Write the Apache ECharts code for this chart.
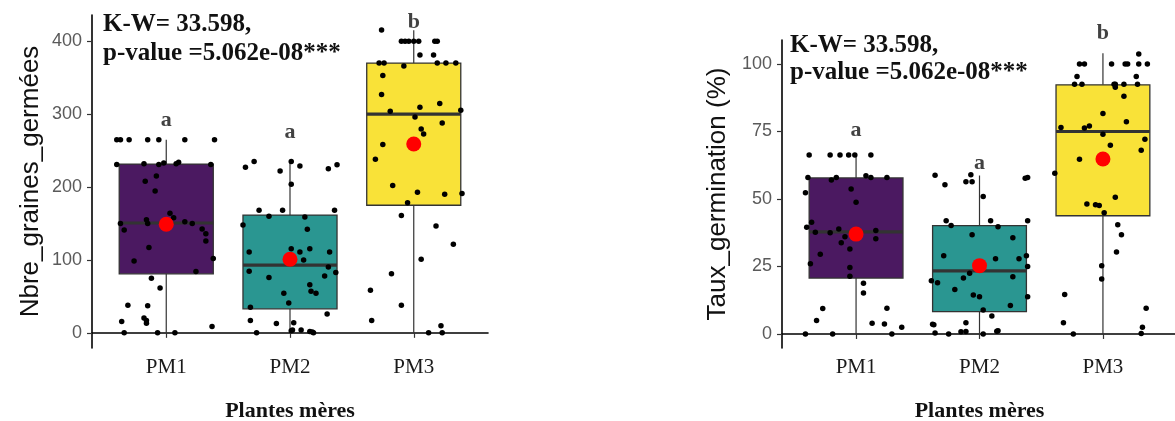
<!DOCTYPE html>
<html><head><meta charset="utf-8">
<script src="https://cdn.jsdelivr.net/npm/echarts@6/dist/echarts.min.js"></script>
<style>html,body{margin:0;padding:0;background:#fff}#c{width:1175px;height:421px}</style>
</head><body><div id="c"></div>
<script>
// ---------- DATA ----------
const categories = ['PM1', 'PM2', 'PM3'];
const boxColors = ['#4B1961', '#2A9691', '#F9E238'];

// Left panel: Nbre_graines_germées  (box: [min, q1, median, q3, max])
const nbreTicks = [0, 100, 200, 300, 400];
const nbreBox = [[0, 81, 150.7, 231.5, 265], [0, 33, 93, 161.6, 237], [0, 175, 300, 370, 415]];
const nbreMean = [149, 101, 259];
const nbreLetters = ['a', 'a', 'b'];
const nbreLetterY = [292, 275, 426];
const nbrePM1 = [265,265,265,265,265,265,265, 231,232,231,233,232,234,231, 215,208,194.5,164,158,155,150,150,152.5,150, 141,142.5,136,126,117,102,98.6,84,75,61.6, 38,37,20.5,15.5,17,13,8.7,0,0,0];
const nbrePM1Jit = [-0.40,-0.37,-0.30,-0.15,-0.06,0.15,0.39, -0.40,-0.18,-0.06,-0.02,0.08,0.10,0.36, -0.08,-0.17,-0.09,0.03,0.06,-0.16,-0.37,-0.15,0.15,0.21, -0.34,0.29,0.32,0.32,-0.14,0.38,-0.26,0.24,-0.12,-0.05, -0.31,-0.15,-0.18,-0.36,-0.16,-0.16,0.37,-0.34,-0.07,0.07];
const nbrePM2 = [235,235,227,229,222,225,230.6,203.7,168,168, 168,160,159,148,142,115.5,111,111,115.5,111, 100,90.4,84.5,82.6,78,75.8,66,57,54.3,54.3, 41,35,26,17,12.8,14,0,3,4,4, 2,1,0];
const nbrePM2Jit = [-0.29,0.01,-0.36,0.08,-0.08,0.31,0.38,0.01,-0.25,-0.06, 0.36,-0.17,0.12,-0.38,0.14,0.01,-0.33,0.08,0.16,0.32, 0.11,0.31,-0.33,0.37,0.28,-0.17,0.16,0.17,0.21,-0.05, -0.01,-0.32,0.30,-0.32,-0.11,0.03,-0.27,0.01,0.02,0.09, 0.16,0.18,0.19];
const nbrePM3 = [415.5, 400,400,400,400,400, 400,400, 381,381, 370,370, 366, 370,370,370, 353,327,314.6,309.6,305.5,304,296,288,279.5,272.6, 258.5,238,202,193,190,191,178.5,161,146.6,121.5, 101,81,58.4,38,17,9.6,0,0];
const nbrePM3Jit = [-0.26, -0.10,-0.07,-0.04,0.0,0.04, 0.17,0.19, 0.05,0.16, -0.28,-0.24, -0.08, 0.19,0.26,0.34, -0.25,-0.26,0.21,0.05,0.38,-0.19,0.01,0.23,0.06,0.08, -0.25,-0.31,-0.17,0.03,0.25,0.39,-0.05,-0.10,0.18,0.32, 0.06,-0.18,-0.35,-0.10,-0.34,0.22,0.12,0.23];

// Right panel: Taux_germination (%)
const tauxTicks = [0, 25, 50, 75, 100];
const tauxBox = [[0, 20.7, 37.8, 57.8, 66.3], [0, 8.3, 23.4, 40.1, 58.7], [0, 43.8, 75, 92.3, 104]];
const tauxMean = [37, 25.3, 64.8];
const tauxLetters = ['a', 'a', 'b'];
const tauxLetterY = [75.6, 63.3, 111.5];
const tauxPM1 = [66.3,66.3,66.3,66.3,66.3,66.3, 58,57,58,58.6,58,58, 53.7,52.3,48.8,41.4,39.5,37.7,37.5,38.9,36,33.8, 31.5,38.3,35.3,29.5,26,24.6,21.4,18.8,15.2,9.4, 9.5,5,4,3.7,2.5,0,0,0];
const tauxPM1Jit = [-0.38,-0.21,-0.13,-0.06,-0.01,0.12, -0.39,-0.20,-0.16,0.08,0.12,0.25, -0.04,-0.41,0,-0.36,-0.40,-0.33,-0.21,-0.14,-0.09,-0.12, -0.05,0.16,0.16,-0.29,-0.37,-0.05,-0.05,0.06,0.06,-0.27, 0.25,-0.32,0.13,0.23,0.37,-0.41,-0.19,0.29];
const tauxPM2 = [58.8,55.3,59,56.4,56.4,57.7,58,50.9,41.9,40.2, 41.9,39.7,41.9,36.8,35.6,29,27.9,27.9,29,25, 22.5,21.2,20.7,19.7,19,16.5,14.4,13.8,13.8,10.5, 8.9,6.7,3.6,3.4,4.2,0.9,0.8,0.4,0,0, 1,1.2];
const tauxPM2Jit = [-0.36,-0.28,-0.07,-0.11,-0.06,0.37,0.39,0.03,-0.27,-0.23, 0.09,0.15,0.39,-0.06,0.27,-0.29,0.13,0.32,0.38,0.39, -0.08,0.27,-0.13,-0.39,-0.34,-0.20,-0.05,0,0.39,0.25, 0.03,0.10,-0.38,-0.37,-0.11,-0.11,-0.15,-0.36,-0.25,0.03, 0.14,0.15];
const tauxPM3 = [103.7, 100,100,100,100,100,100,100, 95.4,95.4, 92.5,92.5,92.5,92.5,92.5,92.5, 91.4,88.1,81.7,78.6,76.5,76.3,77,74,72.1,69.9, 68.1,64.7,59.5,50.6,48.1,47.9,47.6,44.9,40.5,36.8, 30.4,25.3,20.4,14.6,9.5,4.2,2.5,0,0.2];
const tauxPM3Jit = [0.29, -0.19,-0.15,0.07,0.18,0.20,0.29,0.36, -0.21,0.27, -0.23,-0.17,0.09,0.10,0.17,0.28, 0.10,0.17,0,0.19,-0.34,-0.15,-0.11,0,0.34,0.06, 0.31,-0.19,-0.39,0.10,-0.13,-0.06,-0.03,0.01,0.12,0.15, 0.11,-0.01,-0.01,-0.31,0.35,-0.32,0.32,-0.24,0.31];

const statText1 = 'K-W= 33.598,';
const statText2 = 'p-value =5.062e-08***';
const xTitle = 'Plantes mères';
const yTitleLeft = 'Nbre_graines_germées';
const yTitleRight = 'Taux_germination (%)';

// ---------- CHART ----------
const SERIF = '"Liberation Serif", "Times New Roman", serif';
const SANS = '"Liberation Sans", Arial, sans-serif';
const BOX_W = 0.76;

function jitterData(groups, jits) {
  const out = [];
  groups.forEach((vals, gi) => vals.forEach((v, i) => out.push([gi + 1 + jits[gi][i], v])));
  return out;
}
function boxData(box) { return box.map((b, i) => [i + 1].concat(b)); }

function renderBox(params, api) {
  const x = api.value(0);
  const lo = api.coord([x, api.value(1)]);
  const q1 = api.coord([x, api.value(2)]);
  const md = api.coord([x, api.value(3)]);
  const q3 = api.coord([x, api.value(4)]);
  const hi = api.coord([x, api.value(5)]);
  const w = api.size([BOX_W, 0])[0];
  const cx = lo[0];
  const stroke = '#333333';
  return {
    type: 'group',
    children: [
      { type: 'line', shape: { x1: cx, y1: hi[1], x2: cx, y2: q3[1] }, style: { stroke: stroke, lineWidth: 1.2 } },
      { type: 'line', shape: { x1: cx, y1: q1[1], x2: cx, y2: lo[1] }, style: { stroke: stroke, lineWidth: 1.2 } },
      { type: 'rect', shape: { x: cx - w / 2, y: q3[1], width: w, height: q1[1] - q3[1] },
        style: { fill: boxColors[params.dataIndex], stroke: stroke, lineWidth: 1.3 } },
      { type: 'line', shape: { x1: cx - w / 2, y1: md[1], x2: cx + w / 2, y2: md[1] }, style: { stroke: stroke, lineWidth: 3.2 } }
    ]
  };
}

function xAxisCfg(gridIndex) {
  return {
    type: 'value', gridIndex: gridIndex, min: 0.4, max: 3.6,
    name: xTitle, nameLocation: 'middle', nameGap: 52,
    nameTextStyle: { fontFamily: SERIF, fontWeight: 'bold', fontSize: 22, color: '#111' },
    axisLine: { show: true, lineStyle: { color: '#000', width: 1.6 } },
    axisTick: { show: true, customValues: [1, 2, 3], length: 5, lineStyle: { color: '#333', width: 1.2 } },
    axisLabel: { customValues: [1, 2, 3], formatter: v => categories[Math.round(v) - 1], margin: 9,
      fontFamily: SERIF, fontSize: 21, color: '#1a1a1a' },
    splitLine: { show: false }
  };
}
function yAxisCfg(gridIndex, min, max, ticks, name, gap) {
  return {
    type: 'value', gridIndex: gridIndex, min: min, max: max,
    name: name, nameLocation: 'middle', nameGap: gap, nameRotate: 90,
    nameTextStyle: { fontFamily: SANS, fontSize: 26, color: '#111' },
    axisLine: { show: true, lineStyle: { color: '#000', width: 1.6 } },
    axisTick: { show: true, customValues: ticks, length: 5, lineStyle: { color: '#333', width: 1.2 } },
    axisLabel: { customValues: ticks, margin: 10, fontFamily: SANS, fontSize: 18, color: '#5a5a5a' },
    splitLine: { show: false }
  };
}

function panelSeries(idx, box, groups, jits, means, letters, letterY) {
  return [
    { type: 'custom', xAxisIndex: idx, yAxisIndex: idx, renderItem: renderBox, data: boxData(box),
      encode: { x: 0, y: [1, 2, 3, 4, 5] }, clip: false, z: 1 },
    { type: 'scatter', xAxisIndex: idx, yAxisIndex: idx, data: jitterData(groups, jits),
      symbolSize: 5.5, itemStyle: { color: '#000', opacity: 1 }, clip: false, z: 3 },
    { type: 'scatter', xAxisIndex: idx, yAxisIndex: idx, data: means.map((m, i) => [i + 1, m]),
      symbolSize: 15, itemStyle: { color: '#FF0000', opacity: 1 }, z: 4 },
    { type: 'scatter', xAxisIndex: idx, yAxisIndex: idx, data: letterY.map((y, i) => [i + 1, y]),
      symbolSize: 0, clip: false, z: 5, silent: true,
      label: { show: true, position: 'inside', formatter: p => letters[p.dataIndex],
        fontFamily: SERIF, fontWeight: 'bold', fontSize: 22, color: '#111' } }
  ];
}

const chart = echarts.init(document.getElementById('c'), null, { renderer: 'canvas' });
chart.setOption({
  animation: false,
  backgroundColor: '#fff',
  grid: [
    { left: 92, top: 15, width: 396, height: 333, containLabel: false, outerBoundsMode: 'none' },
    { left: 782, top: 40, width: 395, height: 308, containLabel: false, outerBoundsMode: 'none' }
  ],
  xAxis: [xAxisCfg(0), xAxisCfg(1)],
  yAxis: [
    yAxisCfg(0, -20.8, 436, nbreTicks, yTitleLeft, 48),
    yAxisCfg(1, -5.2, 108.9, tauxTicks, yTitleRight, 51)
  ],
  graphic: [
    { type: 'text', left: 103, top: 10, style: { text: statText1 + '\n' + statText2, font: 'bold 25px ' + SERIF, fill: '#111', lineHeight: 29 } },
    { type: 'text', left: 790, top: 32, style: { text: statText1 + '\n' + statText2, font: 'bold 25px ' + SERIF, fill: '#111', lineHeight: 27 } }
  ],
  series: [].concat(
    panelSeries(0, nbreBox, [nbrePM1, nbrePM2, nbrePM3], [nbrePM1Jit, nbrePM2Jit, nbrePM3Jit], nbreMean, nbreLetters, nbreLetterY),
    panelSeries(1, tauxBox, [tauxPM1, tauxPM2, tauxPM3], [tauxPM1Jit, tauxPM2Jit, tauxPM3Jit], tauxMean, tauxLetters, tauxLetterY)
  )
});
</script></body></html>
